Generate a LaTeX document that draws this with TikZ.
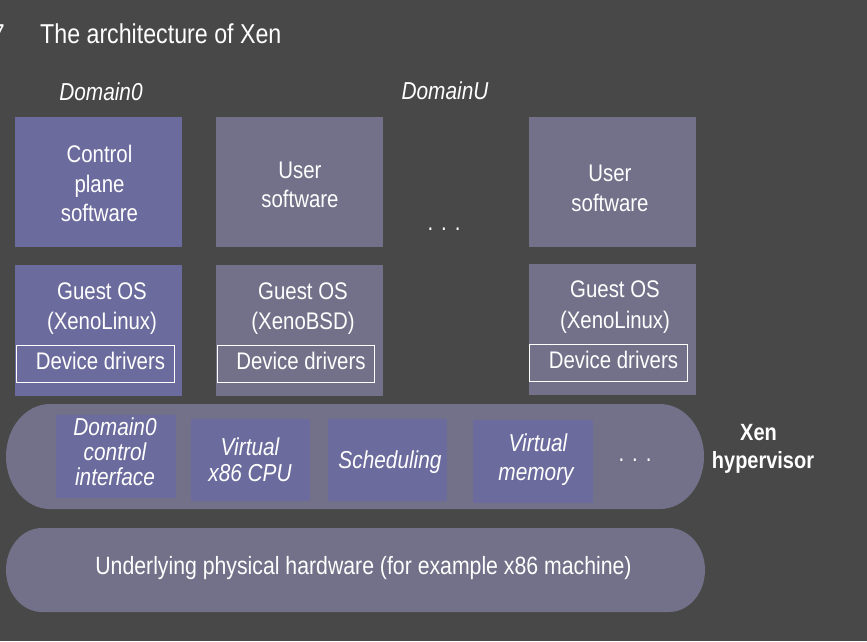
\documentclass[tikz,border=0pt]{standalone}
\usepackage{fontspec}
\setmainfont{Liberation Sans}[FakeStretch=0.85]
\definecolor{bg}{RGB}{72,72,72}
\definecolor{boxblue}{RGB}{108,107,157}
\definecolor{boxgray}{RGB}{114,113,137}
\begin{document}
\begin{tikzpicture}[x=1pt,y=1pt,
  bluebox/.style={fill=boxblue,draw=none},
  graybox/.style={fill=boxgray,draw=none},
  ddbox/.style={draw=white,line width=0.9pt,fill=none},
  txt/.style={text=white,inner sep=0pt,anchor=base,font=\fontsize{24}{30}\selectfont},
  itxt/.style={text=white,inner sep=0pt,anchor=base,font=\fontsize{24.5}{25}\selectfont\itshape},
  btxt/.style={text=white,inner sep=0pt,anchor=base,font=\fontsize{23.5}{28}\selectfont\bfseries},
  ttl/.style={text=white,inner sep=0pt,font=\fontsize{27.3}{32}\selectfont}]
\useasboundingbox (0,0) rectangle (867,-641);
\fill[bg] (0,0) rectangle (867,-641);

% title
\node[ttl,anchor=base east] (fig) at (5,-43.3) {7};
\node[ttl,anchor=base west] (title) at (40,-43.3) {The architecture of Xen};

% domain labels
\node[itxt] (d0lab) at (101,-100) {Domain0};
\node[itxt] (dulab) at (445,-99) {DomainU};

% top row boxes
\path[bluebox] (15,-117) rectangle (182,-247);
\path[graybox] (216,-117) rectangle (383,-247);
\path[graybox] (529,-117) rectangle (696,-246.5);

\node[txt] (cps1) at (99.5,-162.3) {Control};
\node[txt] (cps2) at (99.5,-192.7) {plane};
\node[txt] (cps3) at (99.5,-221.7) {software};

\node[txt] (us1a) at (300,-178) {User};
\node[txt] (us1b) at (300,-207) {software};

\node[txt] (us2a) at (610,-181) {User};
\node[txt] (us2b) at (610,-211.5) {software};

\node[txt] (dotsu) at (444,-230.5) {.\,\,.\,\,.};

% guest OS boxes
\path[bluebox] (15,-265) rectangle (182,-395.5);
\path[graybox] (216,-265) rectangle (383,-395.5);
\path[graybox] (529,-264) rectangle (696,-395);

\node[txt] (g1a) at (102,-299) {Guest OS};
\node[txt] (g1b) at (102,-329) {(XenoLinux)};
\node[txt] (g2a) at (303,-299) {Guest OS};
\node[txt] (g2b) at (303,-329) {(XenoBSD)};
\node[txt] (g3a) at (615,-297) {Guest OS};
\node[txt] (g3b) at (615,-328) {(XenoLinux)};

\draw[ddbox] (16,-345) rectangle (174,-382);
\draw[ddbox] (217,-345) rectangle (374,-382);
\draw[ddbox] (529.5,-344) rectangle (687,-381);
\node[txt] (dd1) at (100.5,-369.3) {Device drivers};
\node[txt] (dd2) at (301,-369.3) {Device drivers};
\node[txt] (dd3) at (613.5,-368.5) {Device drivers};

% hypervisor band
\fill[boxgray] (50,-404) -- (660,-404)
  arc[start angle=90,end angle=-90,x radius=44pt,y radius=52.5pt]
  -- (50,-509)
  arc[start angle=270,end angle=90,x radius=44pt,y radius=52.5pt] -- cycle;

\path[bluebox] (56,-415) rectangle (176,-498);
\path[bluebox] (191,-419) rectangle (310,-501);
\path[bluebox] (328,-419) rectangle (447,-501);
\path[bluebox] (473,-420) rectangle (593,-503);

\node[itxt] (ci1) at (115,-435.7) {Domain0};
\node[itxt] (ci2) at (115,-460) {control};
\node[itxt] (ci3) at (115,-485) {interface};
\node[itxt] (vc1) at (250,-455) {Virtual};
\node[itxt] (vc2) at (250,-481) {x86 CPU};
\node[itxt] (sch) at (390,-468) {Scheduling};
\node[itxt] (vm1) at (538,-451.7) {Virtual};
\node[itxt] (vm2) at (536,-480) {memory};
\node[txt] (dotsh) at (635,-461.5) {.\,\,.\,\,.};

\node[btxt] (xen1) at (758.5,-440.7) {Xen};
\node[btxt] (xen2) at (763,-468) {hypervisor};

% hardware band
\fill[boxgray] (42,-528) -- (669,-528)
  arc[start angle=90,end angle=-90,x radius=36pt,y radius=42pt]
  -- (42,-612)
  arc[start angle=270,end angle=90,x radius=36pt,y radius=42pt] -- cycle;
\node[txt,font=\fontsize{25}{30}\selectfont] (hw) at (363.5,-574) {Underlying physical hardware (for example x86 machine)};
\end{tikzpicture}
\end{document}
